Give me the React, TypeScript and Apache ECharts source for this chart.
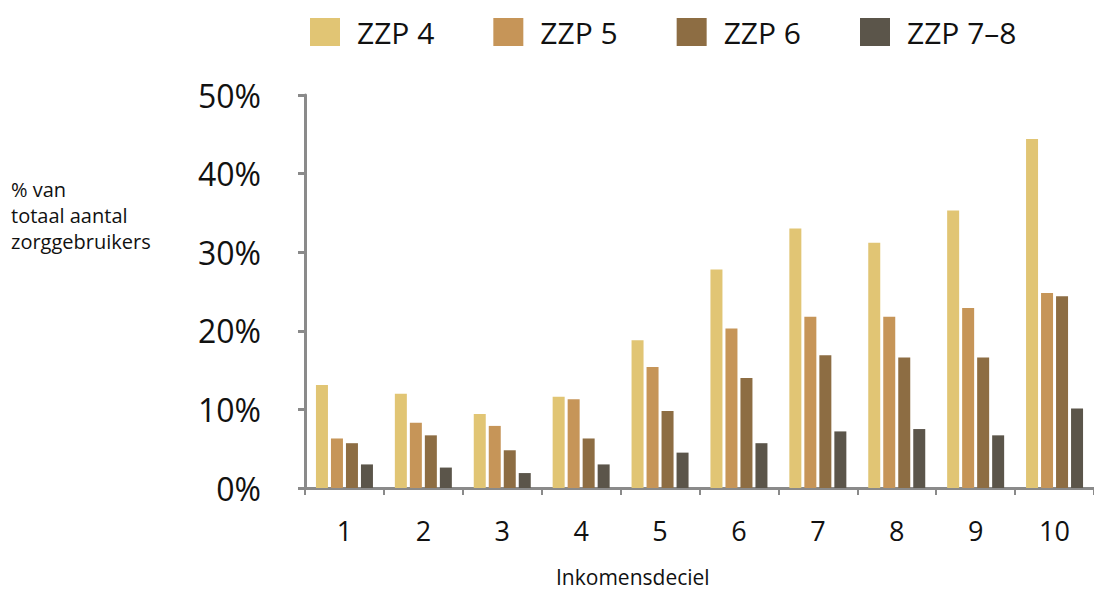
import React, { useEffect, useRef } from "react";
import * as echarts from "echarts";

const deciles = ["1", "2", "3", "4", "5", "6", "7", "8", "9", "10"];
const zzp4 = [13.1, 12.0, 9.4, 11.6, 18.8, 27.8, 33.0, 31.2, 35.3, 44.4];
const zzp5 = [6.3, 8.3, 7.9, 11.3, 15.4, 20.3, 21.8, 21.8, 22.9, 24.8];
const zzp6 = [5.7, 6.7, 4.8, 6.3, 9.8, 14.0, 16.9, 16.6, 16.6, 24.4];
const zzp78 = [3.0, 2.6, 1.9, 3.0, 4.5, 5.7, 7.2, 7.5, 6.7, 10.1];
const seriesNames = ["ZZP 4", "ZZP 5", "ZZP 6", "ZZP 7–8"];
const seriesColors = ["#E1C574", "#C69558", "#8D6D43", "#5B554A"];

const FONT = "'Open Sans', 'Noto Sans', sans-serif";
const AXIS_GRAY = "#8a8a8a";

export default function App() {
  const ref = useRef<HTMLDivElement>(null);

  useEffect(() => {
    if (!ref.current) return;
    const chart = echarts.init(ref.current, null, { renderer: "svg" });
    const values = [zzp4, zzp5, zzp6, zzp78];

    chart.setOption({
      animation: false,
      backgroundColor: "#ffffff",
      textStyle: { fontFamily: FONT },
      legend: {
        left: 310,
        top: 17,
        itemWidth: 30,
        itemHeight: 28,
        itemGap: 59,
        icon: "rect",
        padding: 0,
        data: seriesNames,
        textStyle: {
          fontFamily: FONT,
          fontSize: 30,
          color: "#111111",
          width: 80,
          overflow: "none",
          padding: [0, 0, 0, 12],
        },
      },
      grid: { left: 305, top: 95, width: 800, bottom: 104, containLabel: false },
      xAxis: {
        type: "category",
        data: deciles,
        axisLine: { lineStyle: { color: AXIS_GRAY, width: 3 } },
        axisTick: { show: true, length: 7, lineStyle: { color: AXIS_GRAY, width: 2 } },
        axisLabel: { fontFamily: FONT, fontSize: 27, color: "#111111", margin: 29 },
      },
      yAxis: {
        type: "value",
        min: 0,
        max: 50,
        interval: 10,
        axisLine: { show: true, lineStyle: { color: AXIS_GRAY, width: 3 } },
        axisTick: { show: true, length: 7, lineStyle: { color: AXIS_GRAY, width: 3 } },
        splitLine: { show: false },
        axisLabel: {
          formatter: "{value}%",
          fontFamily: FONT,
          fontSize: 32,
          color: "#111111",
          margin: 44,
        },
      },
      graphic: [
        {
          type: "text",
          left: 11,
          top: 176,
          style: {
            text: "% van\ntotaal aantal\nzorggebruikers",
            fontFamily: FONT,
            fontSize: 20,
            lineHeight: 26,
            fill: "#111111",
          },
        },
        {
          type: "text",
          left: 634 - 78,
          top: 566,
          style: {
            text: "Inkomensdeciel",
            fontFamily: FONT,
            fontSize: 21,
            fill: "#111111",
          },
        },
      ],
      series: seriesNames.map((name, i) => ({
        name,
        type: "bar",
        data: values[i],
        barWidth: 12,
        barGap: "25%",
        itemStyle: { color: seriesColors[i] },
      })),
    });

    return () => chart.dispose();
  }, []);

  return (
    <div
      ref={ref}
      style={{ position: "absolute", left: 0, top: 0, width: 1094, height: 592 }}
    />
  );
}
